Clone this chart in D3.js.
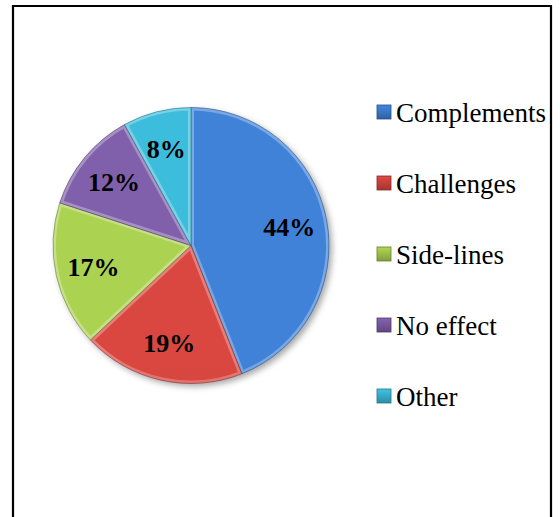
<!DOCTYPE html>
<html>
<head>
<meta charset="utf-8">
<script src="https://cdn.jsdelivr.net/npm/d3@7"></script>
<style>
  html, body { margin: 0; padding: 0; background: #ffffff; }
  svg { display: block; }
  svg text { font-family: "Liberation Serif", "Times New Roman", serif; }
</style>
</head>
<body>
<svg id="chart" width="560" height="517"></svg>
<script>
// Share of responses per category, in percent
const categories = ["Complements", "Challenges", "Side-lines", "No effect", "Other"];
const values = [44, 19, 17, 12, 8];
const valueLabels = ["44%", "19%", "17%", "12%", "8%"];
const sliceColors = ["#3c79c9", "#cb423c", "#a0c44b", "#78599f", "#38b0cd"];

const svg = d3.select("#chart");
const defs = svg.append("defs");

const cx = 191, cy = 245.5, R = 138;
const labelR = 100;

// Outer frame (open at the bottom, it runs past the page edge)
svg.append("path")
  .attr("d", "M13,530 V6 H551 V530")
  .attr("fill", "none")
  .attr("stroke", "#000")
  .attr("stroke-width", 2.2);

// Soft drop shadow under the pie
const shadow = defs.append("filter").attr("id", "shadow")
  .attr("x", "-20%").attr("y", "-20%").attr("width", "140%").attr("height", "140%");
shadow.append("feGaussianBlur").attr("stdDeviation", 3);

svg.append("circle")
  .attr("cx", cx + 3).attr("cy", cy + 3).attr("r", R)
  .attr("fill", "rgba(0,0,0,0.35)")
  .attr("filter", "url(#shadow)");

// Per-slice vertical shading
sliceColors.forEach((c, i) => {
  const g = defs.append("linearGradient")
    .attr("id", "fill" + i)
    .attr("gradientUnits", "userSpaceOnUse")
    .attr("x1", 0).attr("x2", 0)
    .attr("y1", cy - R).attr("y2", cy + R);
  g.append("stop").attr("offset", 0).attr("stop-color", d3.color(c).brighter(0.2));
  g.append("stop").attr("offset", 0.5).attr("stop-color", c);
  g.append("stop").attr("offset", 1).attr("stop-color", d3.color(c).darker(0.4));
});

// Bevel highlight used along every slice edge
const bevel = defs.append("linearGradient")
  .attr("id", "bevel")
  .attr("gradientUnits", "userSpaceOnUse")
  .attr("x1", 0).attr("x2", 0)
  .attr("y1", cy - R).attr("y2", cy + R);
bevel.append("stop").attr("offset", 0).attr("stop-color", "#fff").attr("stop-opacity", 0.3);
bevel.append("stop").attr("offset", 0.45).attr("stop-color", "#fff").attr("stop-opacity", 0.06);
bevel.append("stop").attr("offset", 0.6).attr("stop-color", "#000").attr("stop-opacity", 0.04);
bevel.append("stop").attr("offset", 1).attr("stop-color", "#000").attr("stop-opacity", 0.3);

const pie = d3.pie().sort(null).value(d => d)(values);
const arc = d3.arc().innerRadius(0).outerRadius(R);
const labelArc = d3.arc().innerRadius(labelR).outerRadius(labelR);

const gPie = svg.append("g").attr("transform", `translate(${cx},${cy})`);

pie.forEach((d, i) => {
  const clip = defs.append("clipPath").attr("id", "clip" + i);
  clip.append("path").attr("d", arc(d)).attr("transform", `translate(${cx},${cy})`);
});

const slices = gPie.selectAll("g.slice").data(pie).join("g").attr("class", "slice");

slices.append("path")
  .attr("d", arc)
  .attr("fill", (d, i) => `url(#fill${i})`);

// Bevel: a wide stroke clipped to the slice so only its inner half shows
slices.append("g")
  .attr("clip-path", (d, i) => `url(#clip${i})`)
  .attr("transform", `translate(${-cx},${-cy})`)
  .append("path")
  .attr("transform", `translate(${cx},${cy})`)
  .attr("d", arc)
  .attr("fill", "none")
  .attr("stroke", "url(#bevel)")
  .attr("stroke-width", 6)
  .attr("stroke-linejoin", "round");

slices.append("path")
  .attr("d", arc)
  .attr("fill", "none")
  .attr("stroke", (d, i) => d3.color(sliceColors[i]).darker(1.3))
  .attr("stroke-opacity", 0.7)
  .attr("stroke-width", 0.8);

// Percentage labels
gPie.selectAll("text.val").data(pie).join("text")
  .attr("class", "val")
  .attr("transform", d => `translate(${labelArc.centroid(d)})`)
  .attr("text-anchor", "middle")
  .attr("dy", "0.35em")
  .style("font-weight", "bold")
  .style("font-size", "26px")
  .attr("fill", "#000")
  .text((d, i) => valueLabels[i]);

// Legend
const legendX = 377, legendY0 = 122, legendStep = 71, box = 14;
const legend = svg.append("g");
categories.forEach((name, i) => {
  const y = legendY0 + i * legendStep;
  const c = d3.color(sliceColors[i]);
  const lg = defs.append("linearGradient")
    .attr("id", "key" + i)
    .attr("x1", 0).attr("x2", 0).attr("y1", 0).attr("y2", 1);
  lg.append("stop").attr("offset", 0).attr("stop-color", c.brighter(0.3));
  lg.append("stop").attr("offset", 1).attr("stop-color", c.darker(0.6));
  legend.append("rect")
    .attr("x", legendX).attr("y", y - 17)
    .attr("width", box).attr("height", box)
    .attr("fill", `url(#key${i})`)
    .attr("stroke", c.darker(1.2))
    .attr("stroke-width", 0.8);
  legend.append("text")
    .attr("x", legendX + 19).attr("y", y)
    .style("font-size", "27px")
    .attr("fill", "#000")
    .text(name);
});
</script>
</body>
</html>
